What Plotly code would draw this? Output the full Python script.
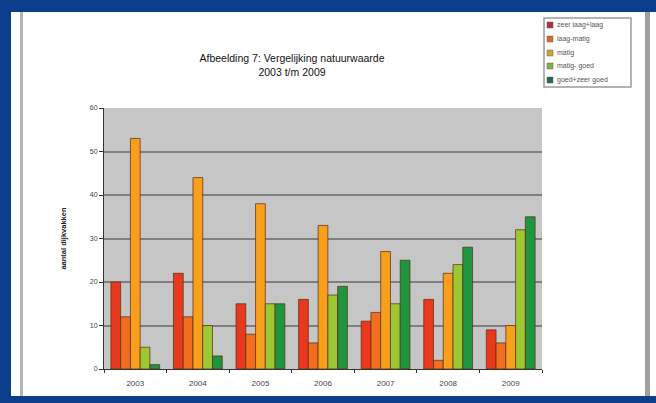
import plotly.graph_objects as go

years = ["2003", "2004", "2005", "2006", "2007", "2008", "2009"]
series_names = ["zeer laag+laag", "laag-matig", "matig", "matig- goed", "goed+zeer goed"]
zeer_laag_laag = [20, 22, 15, 16, 11, 16, 9]
laag_matig = [12, 12, 8, 6, 13, 2, 6]
matig = [53, 44, 38, 33, 27, 22, 10]
matig_goed = [5, 10, 15, 17, 15, 24, 32]
goed_zeer_goed = [1, 3, 15, 19, 25, 28, 35]
colors = ["#e8381e", "#f06e1e", "#f8a01c", "#9cc834", "#1e9640"]
legend_swatch = ["#b0303a", "#d86a30", "#d8a030", "#80b040", "#206a50"]

values = [zeer_laag_laag, laag_matig, matig, matig_goed, goed_zeer_goed]

fig = go.Figure()
for name, vals, c in zip(series_names, values, colors):
    fig.add_trace(go.Bar(x=years, y=vals, name=name,
                         marker=dict(color=c, line=dict(color="#5a2a10", width=0.7))))

W, H = 656, 403
L, R, T, B = 104, 114, 108, 34

def px(x):
    return (x - L) / (W - L - R)

def py(y):
    return (H - B - y) / (H - T - B)

blue = "#0b3f8c"
shapes = [
    dict(type="rect", xref="paper", yref="paper", x0=px(0), x1=px(656), y0=py(0), y1=py(12),
         fillcolor=blue, line_width=0, layer="above"),
    dict(type="rect", xref="paper", yref="paper", x0=px(0), x1=px(11), y0=py(0), y1=py(403),
         fillcolor=blue, line_width=0, layer="above"),
    dict(type="rect", xref="paper", yref="paper", x0=px(0), x1=px(656), y0=py(396), y1=py(403),
         fillcolor=blue, line_width=0, layer="above"),
    dict(type="rect", xref="paper", yref="paper", x0=px(20), x1=px(23), y0=py(12), y1=py(396),
         fillcolor="#b4b4b4", line_width=0, layer="above"),
    dict(type="rect", xref="paper", yref="paper", x0=px(645), x1=px(650), y0=py(12), y1=py(396),
         fillcolor="#a0a0a0", line_width=0, layer="above"),
    dict(type="rect", xref="paper", yref="paper", x0=px(544), x1=px(631), y0=py(18), y1=py(87),
         fillcolor="white", line=dict(color="#9a9a9a", width=1.5), layer="above"),
]
annotations = []
row_y = [25, 39, 53, 66, 80]
for name, sw, yy in zip(series_names, legend_swatch, row_y):
    shapes.append(dict(type="rect", xref="paper", yref="paper",
                       x0=px(547), x1=px(553), y0=py(yy - 3), y1=py(yy + 3),
                       fillcolor=sw, line=dict(color="#666666", width=0.5), layer="above"))
    annotations.append(dict(text=name, xref="paper", yref="paper", x=px(555), y=py(yy),
                            xanchor="left", yanchor="middle", showarrow=False,
                            font=dict(size=7, color="#555555")))

fig.update_layout(
    width=W, height=H,
    margin=dict(l=L, r=R, t=T, b=B),
    paper_bgcolor="white",
    plot_bgcolor="#c6c6c6",
    barmode="group",
    bargap=0.22,
    bargroupgap=0,
    showlegend=False,
    font=dict(family="Liberation Sans, Arial", size=8, color="#222222"),
    title=dict(text="Afbeelding 7: Vergelijking natuurwaarde<br>2003 t/m 2009",
               xref="container", yref="container",
               x=292 / W, xanchor="center", y=1 - 62 / H, yanchor="top",
               font=dict(size=10.5, color="#111111")),
    shapes=shapes,
    annotations=annotations,
    xaxis=dict(showline=True, linecolor="#333333", linewidth=1,
               ticks="outside", ticklen=3, tickcolor="#333333",
               tickson="boundaries", ticklabelstandoff=6,
               tickfont=dict(size=8, color="#444444")),
    yaxis=dict(range=[0, 60], dtick=10, showline=True, linecolor="#333333", linewidth=1,
               ticks="outside", ticklen=4, tickcolor="#333333",
               gridcolor="#7f7f7f", gridwidth=2, zeroline=False,
               tickfont=dict(size=7, color="#444444"),
               title=dict(text="<b>aantal dijkvakken</b>", font=dict(size=7.5, color="#222222"), standoff=22)),
)

fig.write_html("out.html")
